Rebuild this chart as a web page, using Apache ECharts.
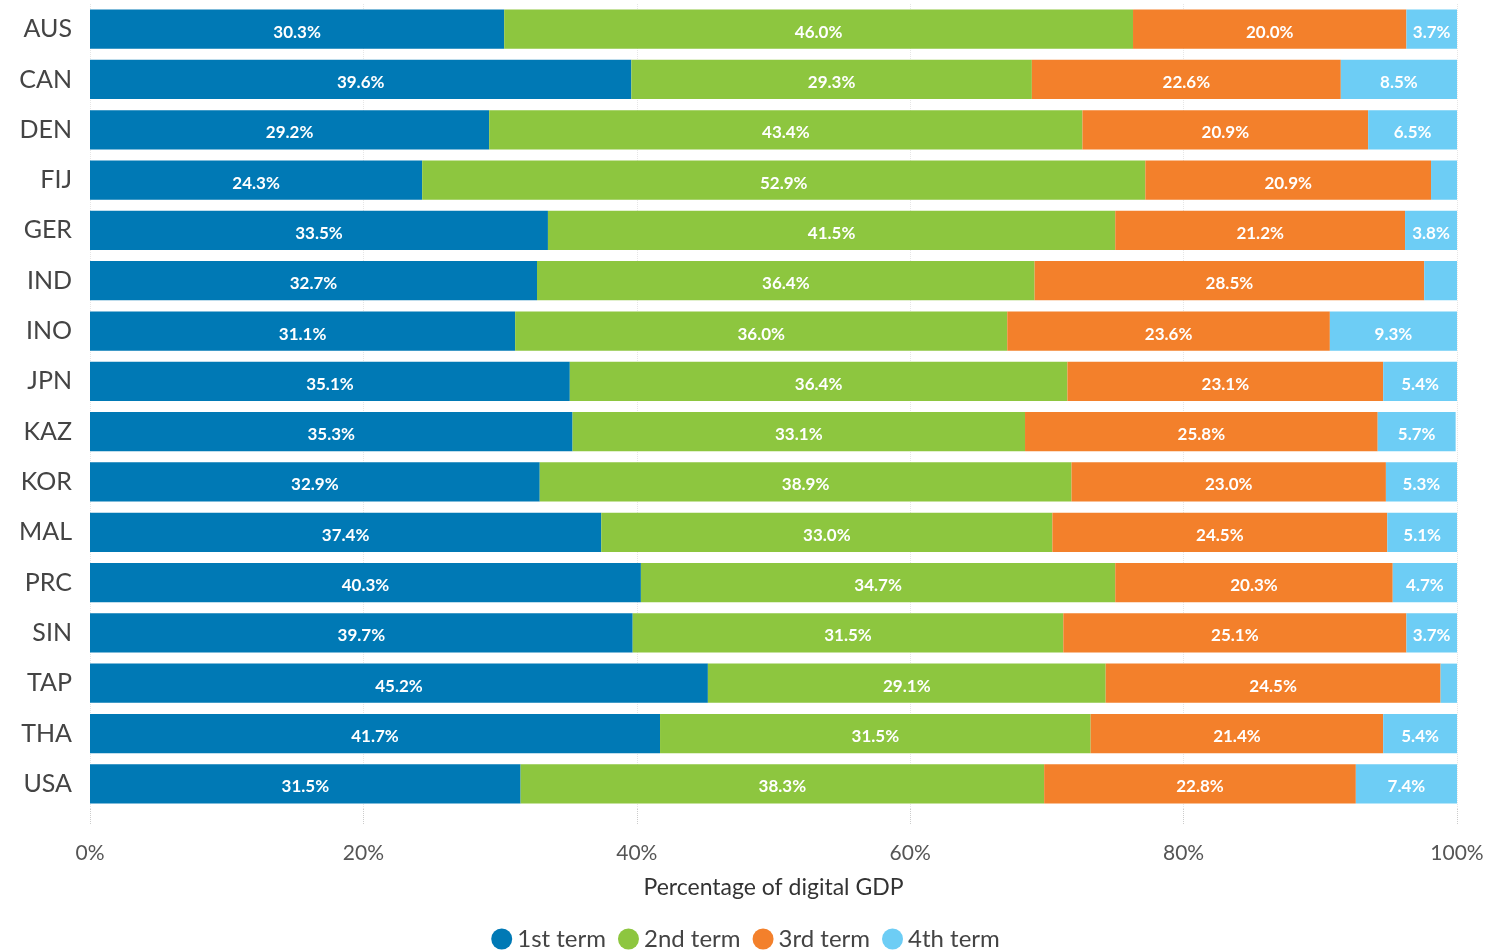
<!DOCTYPE html>
<html>
<head>
<meta charset="utf-8">
<script src="https://cdn.jsdelivr.net/npm/echarts@6/dist/echarts.min.js"></script>
<style>
  html, body { margin: 0; padding: 0; background: #fff; }
  #chart { width: 1491px; height: 950px; }
</style>
</head>
<body>
<div id="chart"></div>
<script>
// Economies, listed top to bottom
const economies = ['AUS', 'CAN', 'DEN', 'FIJ', 'GER', 'IND', 'INO', 'JPN', 'KAZ', 'KOR', 'MAL', 'PRC', 'SIN', 'TAP', 'THA', 'USA'];

// Share of digital GDP by term (%)
const firstTerm  = [30.3, 39.6, 29.2, 24.3, 33.5, 32.7, 31.1, 35.1, 35.3, 32.9, 37.4, 40.3, 39.7, 45.2, 41.7, 31.5];
const secondTerm = [46.0, 29.3, 43.4, 52.9, 41.5, 36.4, 36.0, 36.4, 33.1, 38.9, 33.0, 34.7, 31.5, 29.1, 31.5, 38.3];
const thirdTerm  = [20.0, 22.6, 20.9, 20.9, 21.2, 28.5, 23.6, 23.1, 25.8, 23.0, 24.5, 20.3, 25.1, 24.5, 21.4, 22.8];
const fourthTerm = [3.7, 8.5, 6.5, 1.9, 3.8, 2.4, 9.3, 5.4, 5.7, 5.3, 5.1, 4.7, 3.7, 1.2, 5.4, 7.4];

const termNames = ['1st term', '2nd term', '3rd term', '4th term'];
const termColors = ['#0079b5', '#8dc63f', '#f3802b', '#6dcdf5'];
const xTicks = [0, 20, 40, 60, 80, 100];

const FONT = 'Lato, "Open Sans", sans-serif';

const chart = echarts.init(document.getElementById('chart'));

function makeSeries(name, values, color) {
  return {
    name: name,
    type: 'bar',
    stack: 'total',
    data: values,
    barCategoryGap: '22%',
    itemStyle: { color: color },
    label: {
      show: true,
      position: 'inside',
      color: '#fff',
      fontFamily: FONT,
      fontSize: 17,
      fontWeight: 'bold',
      offset: [0, 3],
      formatter: p => (p.value >= 3 ? p.value.toFixed(1) + '%' : '')
    }
  };
}

chart.setOption({
  animation: false,
  textStyle: { fontFamily: FONT },
  grid: { left: 90, right: 34, top: 4, bottom: 141, containLabel: false },
  legend: {
    top: 922,
    left: 'center',
    icon: 'circle',
    itemWidth: 21,
    itemHeight: 21,
    itemGap: 12,
    textStyle: { fontFamily: FONT, fontSize: 24, color: '#444' },
    data: termNames
  },
  xAxis: {
    type: 'value',
    min: xTicks[0],
    max: xTicks[xTicks.length - 1],
    interval: 20,
    name: 'Percentage of digital GDP',
    nameLocation: 'middle',
    nameGap: 67,
    nameTextStyle: { fontFamily: FONT, fontSize: 23, color: '#333' },
    axisLine: { show: false },
    axisTick: { show: true, length: 16, lineStyle: { color: '#ccc', type: 'dotted' } },
    axisLabel: { formatter: '{value}%', fontFamily: FONT, fontSize: 21, color: '#555', margin: 34 },
    splitLine: { show: true, lineStyle: { color: '#e6e6e6', type: 'dotted' } }
  },
  yAxis: {
    type: 'category',
    inverse: true,
    data: economies,
    axisLine: { show: false },
    axisTick: { show: false },
    axisLabel: { fontFamily: FONT, fontSize: 25, color: '#444', margin: 18 }
  },
  series: [
    makeSeries(termNames[0], firstTerm, termColors[0]),
    makeSeries(termNames[1], secondTerm, termColors[1]),
    makeSeries(termNames[2], thirdTerm, termColors[2]),
    makeSeries(termNames[3], fourthTerm, termColors[3])
  ]
});
</script>
</body>
</html>
